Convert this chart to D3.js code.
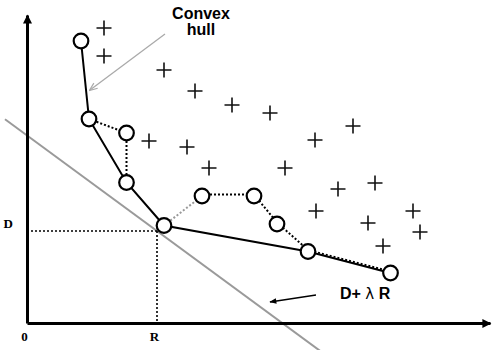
<!DOCTYPE html>
<html>
<head>
<meta charset="utf-8">
<script src="https://cdn.jsdelivr.net/npm/d3@7"></script>
<style>
  body { margin: 0; background: #fff; }
  svg { display: block; }
</style>
</head>
<body>
<div id="chart"></div>
<script>
// operating points (rate, distortion) in plot units
var pointR = [54, 62, 99.5, 99.5, 137, 175, 227, 250, 281, 363.5];
var pointD = [282, 204, 190, 140.5, 97.5, 127, 127, 99, 71.5, 50];
// lower convex hull, solid line
var hullIdx = [0, 1, 3, 4, 8, 9];
// dotted paths between the points
var dotIdxA = [1, 2, 3];
var dotIdxB = [4, 5];        // grey dotted
var dotIdxC = [5, 6, 7, 8, 9];
// other (non-optimal) points
var plusR = [77, 77, 137, 168, 205, 243, 326, 122, 160, 288, 182, 258, 348, 311, 289, 386, 341, 393, 356];
var plusD = [295, 267, 253, 232, 218, 210, 197, 182, 176, 183, 155, 155, 140, 134, 112, 112, 100, 91, 77];
// chosen point and slope of D + lambda R
var R0 = 130, D0 = 92, lambda = 0.735;
var xTickLabels = ['0', 'R'];
var yTickLabels = ['D'];

var W = 493, H = 350;
var svg = d3.select('#chart').append('svg').attr('width', W).attr('height', H);

var x = d3.scaleLinear().domain([0, 463]).range([27, 490]);
var y = d3.scaleLinear().domain([0, 308]).range([323, 15]);

var defs = svg.append('defs');
defs.append('marker').attr('id', 'axisArrow')
  .attr('viewBox', '0 0 10 10').attr('refX', 9).attr('refY', 5)
  .attr('markerUnits', 'userSpaceOnUse')
  .attr('markerWidth', 10).attr('markerHeight', 9).attr('orient', 'auto')
  .append('path').attr('d', 'M0,0L10,5L0,10z').attr('fill', '#000');
defs.append('marker').attr('id', 'greyArrow')
  .attr('viewBox', '0 0 10 10').attr('refX', 9).attr('refY', 5)
  .attr('markerUnits', 'userSpaceOnUse')
  .attr('markerWidth', 9).attr('markerHeight', 8).attr('orient', 'auto')
  .append('path').attr('d', 'M0,1L10,5L0,9').attr('fill', 'none').attr('stroke', '#aaa').attr('stroke-width', 1.5);
defs.append('marker').attr('id', 'blackArrow')
  .attr('viewBox', '0 0 10 10').attr('refX', 9).attr('refY', 5)
  .attr('markerUnits', 'userSpaceOnUse')
  .attr('markerWidth', 8).attr('markerHeight', 7).attr('orient', 'auto')
  .append('path').attr('d', 'M0,1L10,5L0,9z').attr('fill', '#000');

// grey line D + lambda R = const
var lx = [-22, 295];
svg.append('line')
  .attr('x1', x(lx[0])).attr('y1', y(D0 - lambda * (lx[0] - R0)))
  .attr('x2', x(lx[1])).attr('y2', y(D0 - lambda * (lx[1] - R0)))
  .attr('stroke', '#9a9a9a').attr('stroke-width', 2);

// dotted guides to the axes
svg.append('line')
  .attr('x1', x(0)).attr('y1', y(D0)).attr('x2', x(R0)).attr('y2', y(D0))
  .attr('stroke', '#000').attr('stroke-width', 1.6).attr('stroke-dasharray', '2,2');
svg.append('line')
  .attr('x1', x(R0)).attr('y1', y(D0)).attr('x2', x(R0)).attr('y2', y(0))
  .attr('stroke', '#000').attr('stroke-width', 1.6).attr('stroke-dasharray', '2,2');

// axes
var xAxis = d3.axisBottom(x).tickValues([0, R0]).tickSize(0).tickSizeOuter(0).tickPadding(8.5)
  .tickFormat(function(d, i) { return xTickLabels[i]; });
var yAxis = d3.axisLeft(y).tickValues([D0]).tickSize(0).tickSizeOuter(0).tickPadding(14)
  .tickFormat(function(d, i) { return yTickLabels[i]; });

var gx = svg.append('g').attr('transform', 'translate(0,' + y(0) + ')').call(xAxis);
var gy = svg.append('g').attr('transform', 'translate(' + x(0) + ',0)').call(yAxis);
[gx, gy].forEach(function(g) {
  g.select('.domain').attr('stroke', '#000').attr('stroke-width', 3).attr('marker-end', 'url(#axisArrow)');
  g.selectAll('.tick text')
    .attr('font-family', '"Liberation Serif", "Times New Roman", serif')
    .attr('font-weight', 'bold').attr('font-size', 13).attr('fill', '#000');
});
gx.selectAll('.tick text').attr('dx', -3);
gy.selectAll('.tick text').attr('dy', -4);

var line = d3.line()
  .x(function(i) { return x(pointR[i]); })
  .y(function(i) { return y(pointD[i]); });

svg.append('path').attr('d', line(dotIdxA)).attr('fill', 'none')
  .attr('stroke', '#000').attr('stroke-width', 2).attr('stroke-dasharray', '2,2');
svg.append('path').attr('d', line(dotIdxB)).attr('fill', 'none')
  .attr('stroke', '#999').attr('stroke-width', 2).attr('stroke-dasharray', '2,2');
svg.append('path').attr('d', line(dotIdxC)).attr('fill', 'none')
  .attr('stroke', '#000').attr('stroke-width', 2).attr('stroke-dasharray', '2,2')
  .attr('transform', 'translate(0,-1.5)');
svg.append('path').attr('d', line(hullIdx)).attr('fill', 'none')
  .attr('stroke', '#000').attr('stroke-width', 2);

// plus markers
svg.selectAll('.plus')
  .data(d3.range(plusR.length))
  .enter()
  .append('path')
  .attr('class', 'plus')
  .attr('d', function(i) {
    var cx = x(plusR[i]), cy = y(plusD[i]), s = 7.5;
    return 'M' + (cx - s) + ',' + cy + 'H' + (cx + s) + 'M' + cx + ',' + (cy - s) + 'V' + (cy + s);
  })
  .attr('stroke', '#111').attr('stroke-width', 1.6).attr('fill', 'none');

// circles
svg.selectAll('.pt')
  .data(d3.range(pointR.length))
  .enter()
  .append('circle')
  .attr('class', 'pt')
  .attr('cx', function(i) { return x(pointR[i]); })
  .attr('cy', function(i) { return y(pointD[i]); })
  .attr('r', 7.3)
  .attr('fill', '#fff').attr('stroke', '#000').attr('stroke-width', 2.2);

// annotations
var sans = '"Liberation Sans", Arial, sans-serif';
var t = svg.append('text').attr('text-anchor', 'middle')
  .attr('font-family', sans).attr('font-weight', 'bold').attr('font-size', 16).attr('fill', '#000');
t.append('tspan').attr('x', 201).attr('y', 19).text('Convex');
t.append('tspan').attr('x', 201).attr('y', 35).text('hull');

svg.append('line')
  .attr('x1', 165).attr('y1', 34).attr('x2', 90).attr('y2', 90)
  .attr('stroke', '#aaa').attr('stroke-width', 1.3).attr('marker-end', 'url(#greyArrow)');

var t2 = svg.append('text').attr('x', 340).attr('y', 299)
  .attr('font-family', sans).attr('font-weight', 'bold').attr('font-size', 16).attr('fill', '#000');
t2.append('tspan').text('D+ ');
t2.append('tspan').attr('font-weight', 'normal').attr('font-family', '"DejaVu Sans", sans-serif').attr('font-size', 15).text('\u03bb');
t2.append('tspan').text(' R');

svg.append('line')
  .attr('x1', 316).attr('y1', 295).attr('x2', 270).attr('y2', 302)
  .attr('stroke', '#000').attr('stroke-width', 1.3).attr('marker-end', 'url(#blackArrow)');
</script>
</body>
</html>
